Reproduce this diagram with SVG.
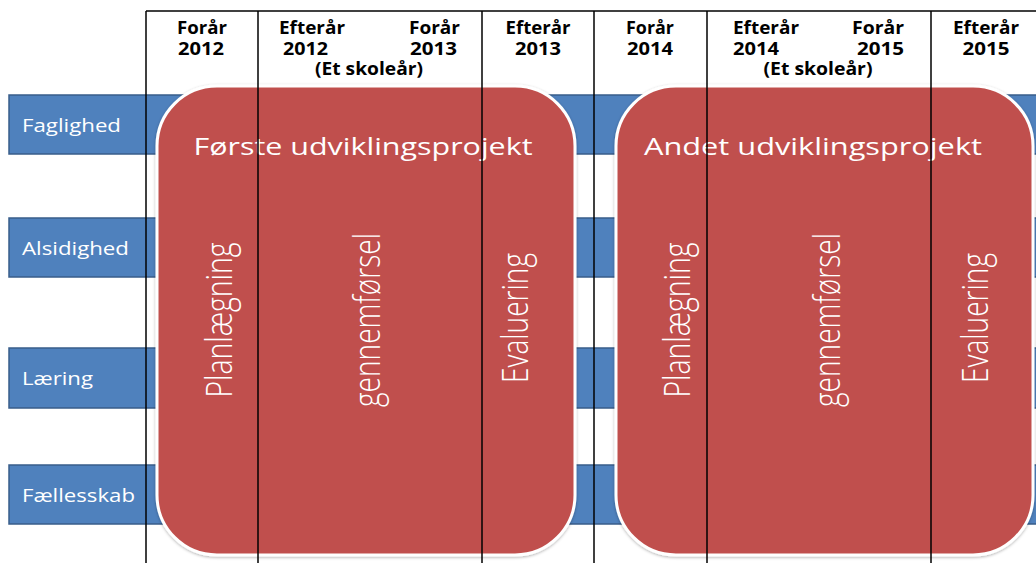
<svg xmlns="http://www.w3.org/2000/svg" width="1036" height="563" viewBox="0 0 1036 563">
<defs>
<style>
.bar{fill:#4F81BD;stroke:#385D8A;stroke-width:1.5}
.barlbl{font-family:"Open Sans","DejaVu Sans",sans-serif;font-size:19px;fill:#FFFFFF}
.proj{fill:#C0504D;stroke:#FFFFFF;stroke-width:3;filter:url(#sh)}
.title{font-family:"Open Sans","DejaVu Sans",sans-serif;font-size:24px;fill:#FFFFFF;text-anchor:middle}
.phase{font-family:"Open Sans","DejaVu Sans",sans-serif;font-weight:300;font-size:36px;fill:#FFFFFF;text-anchor:middle}
.hdr{font-family:"Open Sans","DejaVu Sans",sans-serif;font-weight:bold;font-size:17px;fill:#000000}
.grid{stroke:#000000;stroke-width:1.5;fill:none}
</style>
<filter id="sh" x="-10%" y="-10%" width="120%" height="120%">
<feDropShadow dx="0" dy="1" stdDeviation="1.5" flood-color="#000000" flood-opacity="0.3"/>
</filter>
</defs>
<rect width="1036" height="563" fill="#FFFFFF"/>

<g id="row-faglighed">
<rect class="bar" x="9" y="95" width="1040" height="59"/>
<text class="barlbl" x="22" y="132" textLength="99" lengthAdjust="spacingAndGlyphs">Faglighed</text>
</g>
<g id="row-alsidighed">
<rect class="bar" x="9" y="218" width="1040" height="59"/>
<text class="barlbl" x="22" y="255" textLength="107" lengthAdjust="spacingAndGlyphs">Alsidighed</text>
</g>
<g id="row-laering">
<rect class="bar" x="9" y="348" width="1040" height="60"/>
<text class="barlbl" x="22" y="385" textLength="71" lengthAdjust="spacingAndGlyphs">Læring</text>
</g>
<g id="row-faellesskab">
<rect class="bar" x="9" y="465" width="1040" height="59"/>
<text class="barlbl" x="22" y="502" textLength="113" lengthAdjust="spacingAndGlyphs">Fællesskab</text>
</g>

<g id="project1">
<rect class="proj" x="157" y="86" width="418" height="469" rx="60" ry="60"/>
<text class="title" x="363" y="155" textLength="339" lengthAdjust="spacingAndGlyphs">Første udviklingsprojekt</text>
<text class="phase" transform="translate(232,320) rotate(-90)" textLength="155" lengthAdjust="spacingAndGlyphs">Planlægning</text>
<text class="phase" transform="translate(380,320) rotate(-90)" textLength="174" lengthAdjust="spacingAndGlyphs">gennemførsel</text>
<text class="phase" transform="translate(528,318) rotate(-90)" textLength="130" lengthAdjust="spacingAndGlyphs">Evaluering</text>
</g>

<g id="project2">
<rect class="proj" x="616" y="86" width="417" height="469" rx="60" ry="60"/>
<text class="title" x="813" y="155" textLength="338" lengthAdjust="spacingAndGlyphs">Andet udviklingsprojekt</text>
<text class="phase" transform="translate(690,320) rotate(-90)" textLength="155" lengthAdjust="spacingAndGlyphs">Planlægning</text>
<text class="phase" transform="translate(840,320) rotate(-90)" textLength="174" lengthAdjust="spacingAndGlyphs">gennemførsel</text>
<text class="phase" transform="translate(988,318) rotate(-90)" textLength="130" lengthAdjust="spacingAndGlyphs">Evaluering</text>
</g>

<g id="header">
<text class="hdr" x="202" y="34" text-anchor="middle" textLength="50" lengthAdjust="spacingAndGlyphs">Forår</text>
<text class="hdr" x="201" y="55" text-anchor="middle" textLength="46" lengthAdjust="spacingAndGlyphs">2012</text>
<text class="hdr" x="279" y="34" textLength="66" lengthAdjust="spacingAndGlyphs">Efterår</text>
<text class="hdr" x="283" y="55" textLength="45" lengthAdjust="spacingAndGlyphs">2012</text>
<text class="hdr" x="409" y="34" textLength="51" lengthAdjust="spacingAndGlyphs">Forår</text>
<text class="hdr" x="410" y="55" textLength="47" lengthAdjust="spacingAndGlyphs">2013</text>
<text class="hdr" x="369" y="75" text-anchor="middle" textLength="108" lengthAdjust="spacingAndGlyphs">(Et skoleår)</text>
<text class="hdr" x="538" y="34" text-anchor="middle" textLength="65" lengthAdjust="spacingAndGlyphs">Efterår</text>
<text class="hdr" x="538" y="55" text-anchor="middle" textLength="46" lengthAdjust="spacingAndGlyphs">2013</text>
<text class="hdr" x="650" y="34" text-anchor="middle" textLength="48" lengthAdjust="spacingAndGlyphs">Forår</text>
<text class="hdr" x="650" y="55" text-anchor="middle" textLength="46" lengthAdjust="spacingAndGlyphs">2014</text>
<text class="hdr" x="733" y="34" textLength="66" lengthAdjust="spacingAndGlyphs">Efterår</text>
<text class="hdr" x="733" y="55" textLength="46" lengthAdjust="spacingAndGlyphs">2014</text>
<text class="hdr" x="852" y="34" textLength="52" lengthAdjust="spacingAndGlyphs">Forår</text>
<text class="hdr" x="857" y="55" textLength="47" lengthAdjust="spacingAndGlyphs">2015</text>
<text class="hdr" x="818" y="75" text-anchor="middle" textLength="109" lengthAdjust="spacingAndGlyphs">(Et skoleår)</text>
<text class="hdr" x="986" y="34" text-anchor="middle" textLength="66" lengthAdjust="spacingAndGlyphs">Efterår</text>
<text class="hdr" x="986" y="55" text-anchor="middle" textLength="47" lengthAdjust="spacingAndGlyphs">2015</text>
</g>

<g id="connectors">
<line class="grid" x1="146" y1="11" x2="1036" y2="11"/>
<line class="grid" x1="146" y1="11" x2="146" y2="563"/>
<line class="grid" x1="258" y1="11" x2="258" y2="563"/>
<line class="grid" x1="482" y1="11" x2="482" y2="563"/>
<line class="grid" x1="594" y1="11" x2="594" y2="563"/>
<line class="grid" x1="707" y1="11" x2="707" y2="563"/>
<line class="grid" x1="931" y1="11" x2="931" y2="563"/>
</g>
</svg>
